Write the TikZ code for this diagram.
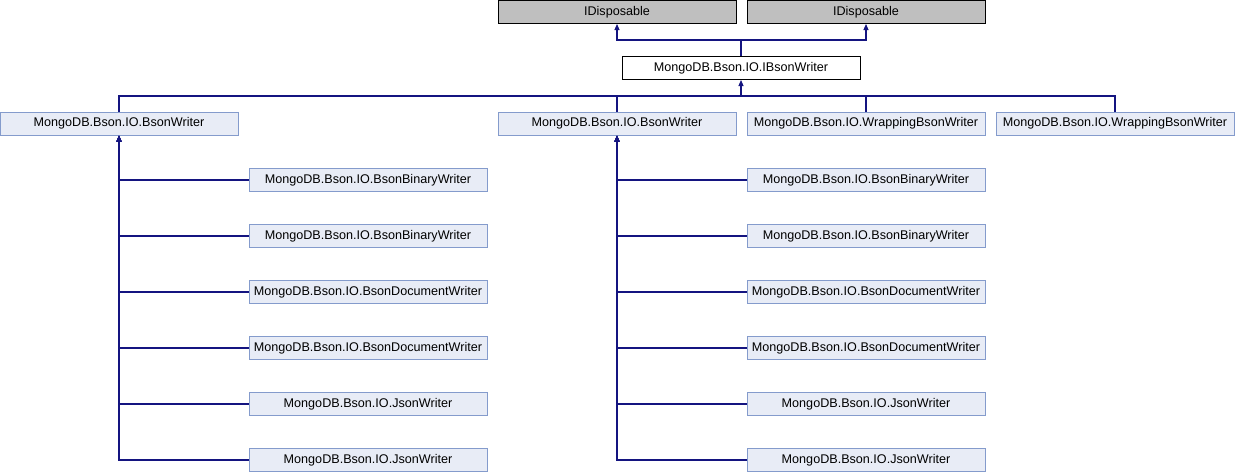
\documentclass[tikz,border=0pt]{standalone}
\usepackage{fontspec}
\setmainfont{Liberation Sans}
\usetikzlibrary{arrows.meta,positioning}
\definecolor{edgeblue}{RGB}{20,20,128}
\definecolor{boxfill}{RGB}{232,236,246}
\definecolor{boxline}{RGB}{132,155,204}
\definecolor{extfill}{RGB}{191,191,191}
\tikzset{
  classbox/.style={draw=boxline,fill=boxfill,line width=1pt,minimum width=238pt,minimum height=23pt,inner sep=0pt,font=\fontsize{12.6}{14}\selectfont},
  extbox/.style={classbox,draw=black,fill=extfill},
  mainbox/.style={classbox,draw=black,fill=white},
  edge/.style={draw=edgeblue,line width=1.1pt},
  inh/.style={edge,-{Triangle[length=6pt,width=5pt]}}
}
\begin{document}
\begin{tikzpicture}[x=1pt,y=-1pt]
  \useasboundingbox (0,0) rectangle (1235,472);
  % interfaces
  \node[extbox] (id1) at (617,12) {IDisposable};
  \node[extbox] (id2) at (866,12) {IDisposable};
  \node[mainbox] (ibw) at (741,68) {MongoDB.Bson.IO.IBsonWriter};
  \coordinate (jtop) at (741,40);
  \draw[inh] (ibw.north) -- (jtop) -| (id1.south);
  \draw[inh] (jtop) -| (id2.south);
  % direct implementations
  \node[classbox] (bw1) at (119,123.5) {MongoDB.Bson.IO.BsonWriter};
  \node[classbox] (bw2) at (617,123.5) {MongoDB.Bson.IO.BsonWriter};
  \node[classbox] (wbw1) at (866,123.5) {MongoDB.Bson.IO.WrappingBsonWriter};
  \node[classbox] (wbw2) at (1115,123.5) {MongoDB.Bson.IO.WrappingBsonWriter};
  \coordinate (jmid) at (741,96);
  \draw[inh] (jmid) -- (ibw.south);
  \foreach \n in {bw1,bw2,wbw1,wbw2}
    \draw[edge] (\n.north) |- (jmid);
  % derived writers
  \foreach \name [count=\i from 0] in {BsonBinaryWriter,BsonBinaryWriter,BsonDocumentWriter,BsonDocumentWriter,JsonWriter,JsonWriter} {
    \node[classbox] (l\i) at (368,180+56*\i) {MongoDB.Bson.IO.\name};
    \node[classbox] (r\i) at (866,180+56*\i) {MongoDB.Bson.IO.\name};
    \draw[inh] (l\i.west) -| (bw1.south);
    \draw[inh] (r\i.west) -| (bw2.south);
  }
\end{tikzpicture}
\end{document}
